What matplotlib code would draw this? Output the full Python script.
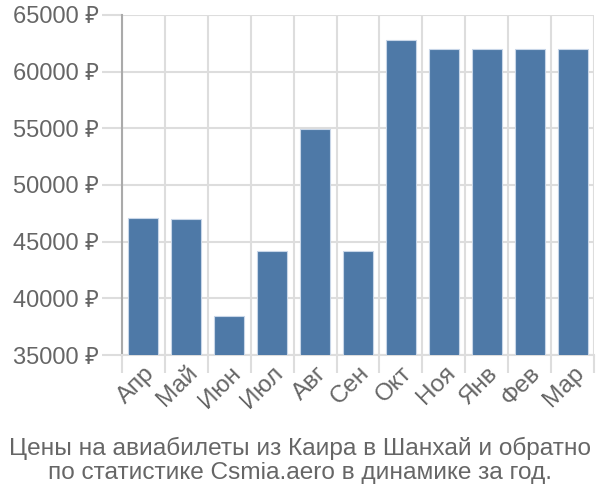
import matplotlib
matplotlib.use("Agg")
import matplotlib.pyplot as plt
import numpy as np

months = ["Апр", "Май", "Июн", "Июл", "Авг", "Сен", "Окт", "Ноя", "Янв", "Фев", "Мар"]
prices = [47100, 47000, 38400, 44200, 54900, 44200, 62800, 62000, 62000, 62000, 62000]
yticks = [35000, 40000, 45000, 50000, 55000, 60000, 65000]
caption = "Цены на авиабилеты из Каира в Шанхай и обратно\nпо статистике Csmia.aero в динамике за год."

plt.rcParams['font.family'] = ['Liberation Sans', 'Noto Sans', 'DejaVu Sans']
text_color = "#666666"
grid_color = "#dddddd"

fig = plt.figure(figsize=(6, 5), dpi=100)
ax = fig.add_axes([122/600, 1-355/500, (594-122)/600, (355-15)/500])

x = np.arange(len(months))
ax.bar(x, prices, width=0.7, color="#4e79a7", edgecolor="#c8d6e8", linewidth=0.8, zorder=3)

ax.set_xlim(-0.5, len(months)-0.5)
ax.set_ylim(35000, 65000)
ax.set_yticks(yticks)
ax.set_yticklabels([f"{v} ₽" for v in yticks])
ax.set_xticks(x)
ax.set_xticklabels(months, rotation=45, ha="right", rotation_mode="anchor")
ax.set_xticks(np.arange(-0.5, len(months)), minor=True)

ax.tick_params(axis="y", length=14.4, color=grid_color, width=1.5, labelsize=17, labelcolor=text_color, pad=2)
ax.tick_params(axis="x", which="major", length=0, labelsize=17.5, labelcolor=text_color, pad=5)
ax.tick_params(axis="x", which="minor", length=13, color=grid_color, width=1.5)

ax.grid(True, axis="y", color=grid_color, linewidth=1.5, zorder=0)
ax.grid(True, axis="x", which="minor", color=grid_color, linewidth=1.5, zorder=0)

for s in ["top", "right"]:
    ax.spines[s].set_visible(False)
ax.spines["left"].set_color("#aaaaaa")
ax.spines["left"].set_linewidth(1.5)
ax.spines["bottom"].set_color(grid_color)
ax.spines["bottom"].set_linewidth(1.5)

fig.text(0.5, 1-460/500, caption, ha="center", va="center", fontsize=17.6, color=text_color, linespacing=1.12)

fig.savefig("out.png", dpi=100)
